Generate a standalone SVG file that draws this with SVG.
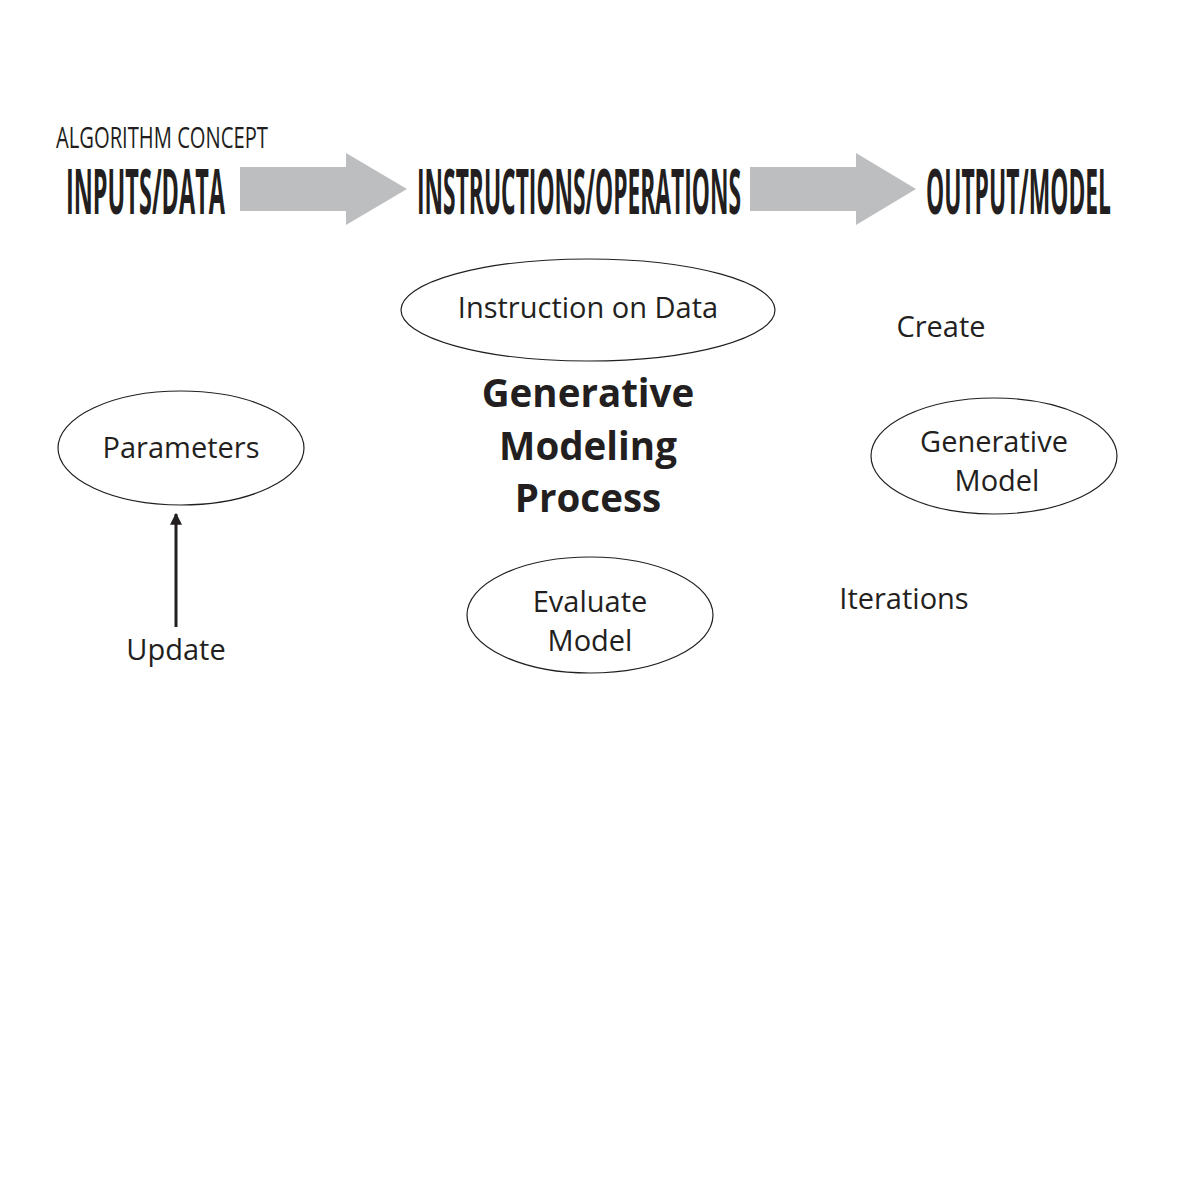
<svg xmlns="http://www.w3.org/2000/svg" width="1200" height="1200" viewBox="0 0 1200 1200">
<style>
.hd{font-family:"Open Sans","Noto Sans",sans-serif;font-weight:bold;font-size:62px;fill:#231f20}
.sub{font-family:"Open Sans","Noto Sans",sans-serif;font-size:30px;fill:#231f20}
.lbl{font-family:"Open Sans","Noto Sans",sans-serif;font-size:29px;fill:#231f20;text-anchor:middle}
.ttl{font-family:"Open Sans","Noto Sans",sans-serif;font-size:38.5px;font-weight:bold;fill:#231f20;text-anchor:middle}
.ell{fill:none;stroke:#231f20;stroke-width:1.2}
.big{fill:#bcbec0}
</style>
<defs>
<marker id="ah" viewBox="0 0 10 10" refX="9" refY="5" markerWidth="4" markerHeight="4" orient="auto" markerUnits="strokeWidth">
<path d="M0,0 L10,5 L0,10 z" fill="#231f20"/>
</marker>
</defs>
<rect width="1200" height="1200" fill="#fff"/>
<g id="header">
<text class="sub" transform="translate(56,148) scale(0.65,1)" x="0" y="0" textLength="326" lengthAdjust="spacingAndGlyphs">ALGORITHM CONCEPT</text>
<text class="hd" transform="translate(66,214) scale(0.4,1)" x="0" y="0" textLength="397.5" lengthAdjust="spacingAndGlyphs">INPUTS/DATA</text>
<text class="hd" transform="translate(417,214) scale(0.4,1)" x="0" y="0" textLength="810" lengthAdjust="spacingAndGlyphs">INSTRUCTIONS/OPERATIONS</text>
<text class="hd" transform="translate(926,214) scale(0.4,1)" x="0" y="0" textLength="462.5" lengthAdjust="spacingAndGlyphs">OUTPUT/MODEL</text>
</g>
<g id="connectors">
<path class="big" d="M240,167 H346 V153 L407,189 L346,225 V211 H240 Z"/>
<path class="big" d="M750,167 H856 V153 L916,189 L856,225 V211 H750 Z"/>
<line x1="176" y1="627" x2="176" y2="514" stroke="#231f20" stroke-width="3" marker-end="url(#ah)"/>
</g>
<g id="instruction">
<ellipse class="ell" cx="588" cy="310" rx="187" ry="51"/>
<text class="lbl" x="588" y="318">Instruction on Data</text>
</g>
<g id="title">
<text class="ttl" x="588" y="407">Generative</text>
<text class="ttl" x="588" y="460">Modeling</text>
<text class="ttl" x="588" y="512">Process</text>
</g>
<g id="parameters">
<ellipse class="ell" cx="181" cy="448" rx="123" ry="57"/>
<text class="lbl" x="181" y="458">Parameters</text>
</g>
<g id="generative-model">
<ellipse class="ell" cx="994" cy="456" rx="123" ry="58"/>
<text class="lbl" x="994" y="452">Generative</text>
<text class="lbl" x="997" y="491">Model</text>
</g>
<g id="evaluate-model">
<ellipse class="ell" cx="590" cy="615" rx="123" ry="58"/>
<text class="lbl" x="590" y="612">Evaluate</text>
<text class="lbl" x="590" y="651">Model</text>
</g>
<g id="labels">
<text class="lbl" x="941" y="337">Create</text>
<text class="lbl" x="904" y="609">Iterations</text>
<text class="lbl" x="176" y="660">Update</text>
</g>
</svg>
